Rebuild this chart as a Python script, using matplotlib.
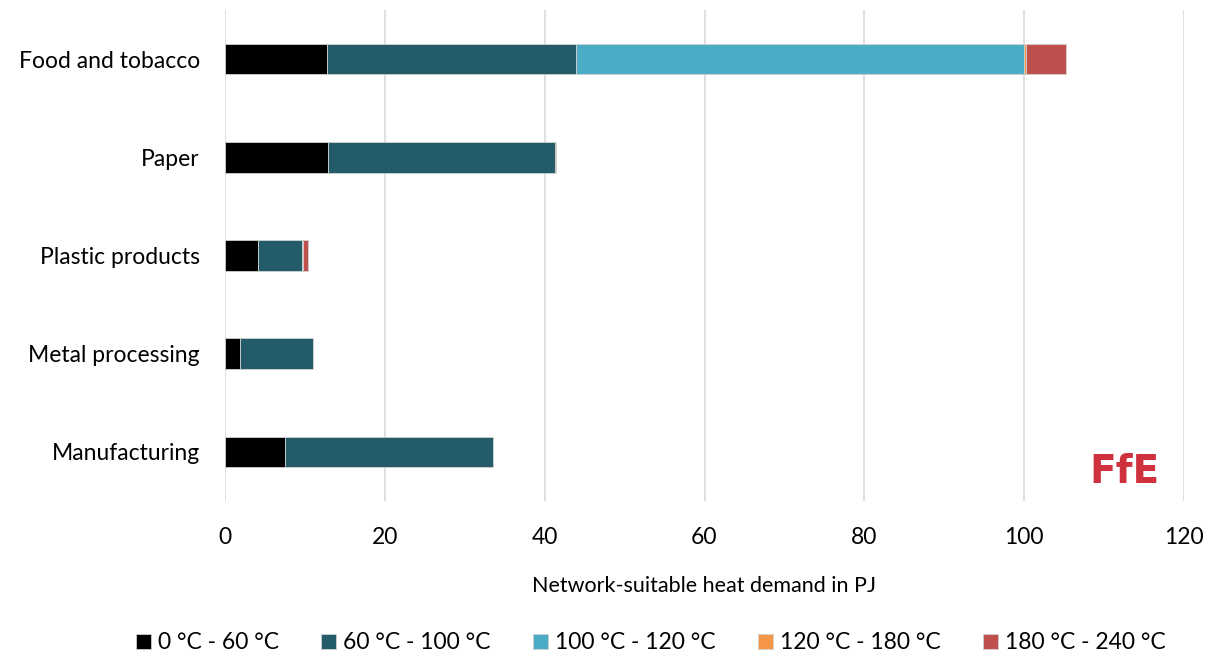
"""Stacked horizontal bars: network-suitable industrial heat demand by temperature band."""
import matplotlib

matplotlib.use("Agg")
import matplotlib.pyplot as plt
import numpy as np

plt.rcParams["font.family"] = ["Lato", "DejaVu Sans"]

sectors = ["Food and tobacco", "Paper", "Plastic products", "Metal processing", "Manufacturing"]
bands = ["0 °C - 60 °C", "60 °C - 100 °C", "100 °C - 120 °C", "120 °C - 180 °C", "180 °C - 240 °C"]
band_colors = ["#000000", "#235B69", "#4BACC6", "#F79646", "#C0504D"]

# values in PJ, one list per temperature band (same order as sectors)
t_0_60 = [12.8, 12.9, 4.1, 1.9, 7.5]
t_60_100 = [31.1, 28.4, 5.5, 9.1, 26.0]
t_100_120 = [56.1, 0.0, 0.0, 0.0, 0.0]
t_120_180 = [0.2, 0.15, 0.2, 0.0, 0.0]
t_180_240 = [5.0, 0.0, 0.6, 0.0, 0.0]
series = [t_0_60, t_60_100, t_100_120, t_120_180, t_180_240]

fig = plt.figure(figsize=(12.13, 6.57), dpi=100)
ax = fig.add_axes([225 / 1213, 1 - 501 / 657, (1184 - 225) / 1213, 491 / 657])

y = np.arange(len(sectors))
left = np.zeros(len(sectors))
for vals, label, color in zip(series, bands, band_colors):
    vals = np.array(vals)
    ax.barh(y, vals, left=left, height=0.31, color=color, label=label,
            edgecolor="#d0d0d0", linewidth=0.6, zorder=3)
    left += vals

ax.set_ylim(len(sectors) - 0.5, -0.5)
ax.set_xlim(0, 120)
ax.set_xticks(np.arange(0, 121, 20))
ax.set_yticks(y)
ax.set_yticklabels(sectors, fontsize=16.5)
ax.tick_params(axis="x", labelsize=16.5, length=0, pad=19)
ax.tick_params(axis="y", length=0, pad=18)
ax.grid(axis="x", color="#d9d9d9", linewidth=1.2, zorder=0)
for s in ax.spines.values():
    s.set_visible(False)

ax.set_xlabel("Network-suitable heat demand in PJ", fontsize=15.5, labelpad=20)

ax.legend(loc="center", bbox_to_anchor=(0.444, -0.289), ncol=5, frameon=False,
          fontsize=16.5, handlelength=0.65, handleheight=0.65, handletextpad=0.3,
          columnspacing=1.86)

fig.text(1124 / 1213, 1 - 472 / 657, "FfE", color="#d0323d", fontsize=28,
         fontweight="bold", ha="center", va="center",
         family=["Liberation Sans Narrow", "DejaVu Sans"])

fig.savefig("out.png", dpi=100)
plt.close(fig)
